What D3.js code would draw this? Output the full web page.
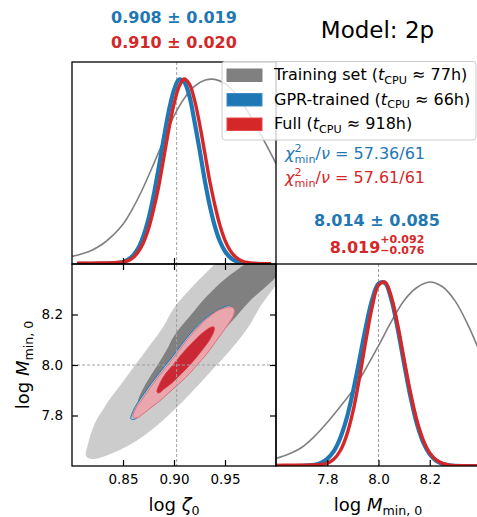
<!DOCTYPE html>
<html>
<head>
<meta charset="utf-8">
<script src="https://cdn.jsdelivr.net/npm/d3@7"></script>
<style>
body { margin: 0; background: #fff; }
svg { display: block; font-family: "DejaVu Sans", sans-serif; }
text { white-space: pre; }
</style>
</head>
<body>
<div id="chart"></div>
<script>
// ---- axis ranges and ticks ----
var zetaRange = [0.80, 1.00];
var mminRange = [7.6, 8.4];
var zetaTicks = [0.85, 0.90, 0.95];
var mminTicks = [7.8, 8.0, 8.2];
var zetaTruth = 0.9026;
var mminTruth = 8.0;

// ---- 1D marginal of log zeta0 (peak normalised) ----
var zetaGridTrain = [0.80, 0.81, 0.82, 0.83, 0.84, 0.85, 0.86, 0.87, 0.88, 0.89, 0.90,
                     0.91, 0.92, 0.93, 0.94, 0.95, 0.96, 0.97, 0.98, 0.99, 1.00];
var zetaTrain = [0.041, 0.055, 0.076, 0.108, 0.155, 0.215, 0.305, 0.415, 0.54, 0.67, 0.80,
                 0.895, 0.96, 0.993, 0.998, 0.975, 0.922, 0.845, 0.752, 0.649, 0.543];
var zetaGrid = [0.805, 0.82, 0.835, 0.845, 0.85, 0.855, 0.86, 0.865, 0.87, 0.875, 0.88,
                0.885, 0.89, 0.895, 0.90, 0.905, 0.91, 0.915, 0.92, 0.925, 0.93, 0.935,
                0.94, 0.945, 0.95, 0.955, 0.96, 0.965, 0.97, 0.98, 0.995];
var zetaGPR = [0.001, 0.001, 0.002, 0.006, 0.011, 0.024, 0.047, 0.086, 0.152, 0.245, 0.37,
               0.52, 0.68, 0.829, 0.94, 0.997, 0.983, 0.91, 0.773, 0.62, 0.458, 0.317,
               0.205, 0.123, 0.069, 0.036, 0.017, 0.008, 0.003, 0.001, 0.0];
var zetaFull = [0.004, 0.005, 0.006, 0.008, 0.011, 0.018, 0.035, 0.066, 0.115, 0.19, 0.295,
                0.42, 0.575, 0.73, 0.865, 0.96, 1.0, 0.974, 0.89, 0.76, 0.607, 0.45,
                0.32, 0.209, 0.128, 0.074, 0.04, 0.02, 0.01, 0.003, 0.001];

// ---- 1D marginal of log Mmin0 ----
var mminGridTrain = [7.60, 7.65, 7.70, 7.75, 7.80, 7.85, 7.90, 7.95, 8.00,
                     8.05, 8.10, 8.15, 8.20, 8.25, 8.30, 8.35, 8.40];
var mminTrain = [0.041, 0.065, 0.10, 0.16, 0.235, 0.32, 0.41, 0.525, 0.65,
                 0.78, 0.895, 0.965, 0.995, 0.969, 0.89, 0.76, 0.60];
var mminGrid = [7.60, 7.65, 7.70, 7.725, 7.75, 7.775, 7.80, 7.825, 7.85, 7.875, 7.90,
                7.925, 7.95, 7.975, 8.00, 8.025, 8.05, 8.075, 8.10, 8.125, 8.15, 8.175,
                8.20, 8.225, 8.25, 8.275, 8.30, 8.35, 8.40];
var mminGPR = [0.0, 0.0, 0.001, 0.003, 0.007, 0.017, 0.039, 0.079, 0.149, 0.254, 0.398,
               0.57, 0.748, 0.898, 0.986, 0.99, 0.901, 0.742, 0.552, 0.373, 0.227, 0.126,
               0.063, 0.028, 0.011, 0.004, 0.001, 0.0, 0.0];
var mminFull = [0.003, 0.004, 0.004, 0.005, 0.006, 0.008, 0.014, 0.036, 0.081, 0.163, 0.292,
                0.47, 0.672, 0.858, 0.977, 0.994, 0.914, 0.762, 0.576, 0.395, 0.246, 0.139,
                0.071, 0.033, 0.014, 0.005, 0.002, 0.001, 0.001];

// ---- 2D contours [log zeta0, log Mmin0] ----
var trainOuter = [[0.8137, 7.640], [0.8157, 7.687], [0.8225, 7.770], [0.8314, 7.830], [0.8392, 7.877],
  [0.8490, 7.929], [0.8598, 7.988], [0.8765, 8.079], [0.8892, 8.150], [0.9000, 8.226],
  [0.9186, 8.313], [0.9402, 8.400], [0.9647, 8.495], [0.9880, 8.600], [1.0137, 8.685],
  [1.0382, 8.733], [1.0598, 8.741], [1.0578, 8.693], [1.0510, 8.610], [1.0422, 8.550],
  [1.0343, 8.503], [1.0245, 8.451], [1.0137, 8.392], [0.9971, 8.301], [0.9843, 8.230],
  [0.9735, 8.154], [0.9578, 8.071], [0.9373, 7.980], [0.9137, 7.877], [0.8873, 7.774],
  [0.8598, 7.691], [0.8353, 7.644], [0.8196, 7.628]];
var trainInner = [[0.8647, 7.850], [0.8676, 7.889], [0.8745, 7.941], [0.8833, 7.996], [0.8922, 8.055],
  [0.9000, 8.115], [0.9157, 8.194], [0.9324, 8.273], [0.9500, 8.341], [0.9696, 8.400],
  [0.9883, 8.470], [1.0088, 8.550], [1.0235, 8.582], [1.0294, 8.554], [1.0235, 8.475],
  [1.0118, 8.408], [1.0000, 8.349], [0.9863, 8.297], [0.9735, 8.250], [0.9578, 8.178],
  [0.9402, 8.099], [0.9255, 8.040], [0.9108, 7.980], [0.8961, 7.921], [0.8814, 7.873],
  [0.8716, 7.850]];
var gprOuter = [[0.8578, 7.786], [0.8608, 7.826], [0.8676, 7.869], [0.8824, 7.952], [0.8990, 8.036],
  [0.9157, 8.123], [0.9324, 8.190], [0.9471, 8.226], [0.9549, 8.234], [0.9578, 8.218],
  [0.9529, 8.170], [0.9382, 8.083], [0.9225, 8.004], [0.9059, 7.933], [0.8873, 7.865],
  [0.8686, 7.806], [0.8618, 7.786]];
var gprInner = [[0.8814, 7.889], [0.8912, 7.968], [0.9059, 8.040], [0.9225, 8.111], [0.9353, 8.150],
  [0.9382, 8.139], [0.9275, 8.063], [0.9137, 7.996], [0.8971, 7.929], [0.8843, 7.885]];
var fullOuter = [[0.8598, 7.794], [0.8627, 7.830], [0.8696, 7.869], [0.8765, 7.909], [0.8843, 7.952],
  [0.8931, 7.996], [0.9010, 8.036], [0.9088, 8.079], [0.9176, 8.123], [0.9255, 8.158],
  [0.9343, 8.190], [0.9422, 8.214], [0.9500, 8.226], [0.9559, 8.230], [0.9588, 8.222],
  [0.9588, 8.202], [0.9539, 8.166], [0.9471, 8.127], [0.9392, 8.083], [0.9314, 8.040],
  [0.9235, 8.004], [0.9157, 7.968], [0.9069, 7.933], [0.8980, 7.901], [0.8882, 7.865],
  [0.8784, 7.834], [0.8696, 7.806], [0.8637, 7.790]];
var fullInner = [[0.8833, 7.893], [0.8863, 7.929], [0.8922, 7.968], [0.8990, 8.000], [0.9069, 8.040],
  [0.9157, 8.079], [0.9235, 8.111], [0.9304, 8.135], [0.9363, 8.150], [0.9392, 8.150],
  [0.9392, 8.135], [0.9343, 8.095], [0.9284, 8.063], [0.9216, 8.028], [0.9147, 7.996],
  [0.9069, 7.964], [0.8980, 7.929], [0.8902, 7.905], [0.8853, 7.889]];

// ---- text ----
var legendNames = ["Training set (", "GPR-trained (", "Full ("];
var legendTimes = [" \u2248 77h)", " \u2248 66h)", " \u2248 918h)"];
var chi2Values = ["57.36/61", "57.61/61"];
var zetaSummary = ["0.908 \u00b1 0.019", "0.910 \u00b1 0.020"];
var mminSummaryGPR = "8.014 \u00b1 0.085";
var mminSummaryFull = ["8.019", "+0.092", "\u22120.076"];

var BLUE = "#1f77b4", RED = "#d62728", GREY = "#808080";

var svg = d3.select("#chart").append("svg").attr("width", 477).attr("height", 517);

// scales
var xZ = d3.scaleLinear().domain(zetaRange).range([72, 276]);
var yM = d3.scaleLinear().domain(mminRange).range([466, 264]);
var xM = d3.scaleLinear().domain(mminRange).range([276, 481]);
var yTop = d3.scaleLinear().domain([0, 1.092]).range([264, 62]);
var yBot = d3.scaleLinear().domain([0, 1.092]).range([466, 264]);

// clip paths for the three panels
var defs = svg.append("defs");
function clip(id, x, y, w, h) {
    defs.append("clipPath").attr("id", id).append("rect")
        .attr("x", x).attr("y", y).attr("width", w).attr("height", h);
}
clip("cTL", 72, 62, 204, 202);
clip("cBL", 72, 264, 204, 202);
clip("cBR", 276, 264, 205, 202);

// lays out a row of text pieces (super/subscripts) and returns the group
function mathText(parent, x, y, parts, opt) {
    var g = parent.append("g");
    var cx = 0, lastStart = 0, lastW = 0;
    parts.forEach(function(p) {
        var t = g.append("text").text(p.t)
            .attr("font-size", p.s || opt.size)
            .attr("fill", opt.color || "#000")
            .attr("font-weight", opt.weight || "normal")
            .attr("font-style", p.i ? "italic" : "normal");
        var sx = p.stack ? lastStart : cx;
        t.attr("x", sx).attr("y", p.dy || 0);
        var w = t.node().getComputedTextLength();
        if (p.stack) {
            cx = lastStart + Math.max(lastW, w);
        } else {
            lastStart = sx; lastW = w; cx = sx + w;
        }
    });
    var shift = opt.anchor === "middle" ? -cx / 2 : 0;
    var tr = "translate(" + x + "," + y + ")";
    if (opt.rotate) tr += " rotate(" + opt.rotate + ")";
    g.attr("transform", tr + " translate(" + shift + ",0)");
    return g;
}

function dashed(g, x1, y1, x2, y2) {
    g.append("line").attr("x1", x1).attr("y1", y1).attr("x2", x2).attr("y2", y2)
        .attr("stroke", "#a0a0a0").attr("stroke-width", 1).attr("stroke-dasharray", "3,2");
}

// ---------- top-left: 1D log zeta0 ----------
var tl = svg.append("g").attr("clip-path", "url(#cTL)");
dashed(tl, xZ(zetaTruth), 62, xZ(zetaTruth), 264);
var lineZ = function(grid) {
    return d3.line().x(function(d, i) { return xZ(grid[i]); })
        .y(function(d) { return yTop(d); }).curve(d3.curveCatmullRom.alpha(0.5));
};
tl.append("path").attr("d", lineZ(zetaGridTrain)(zetaTrain))
    .attr("fill", "none").attr("stroke", GREY).attr("stroke-width", 1.6);
tl.append("path").attr("d", lineZ(zetaGrid)(zetaGPR))
    .attr("fill", "none").attr("stroke", BLUE).attr("stroke-width", 4.2);
tl.append("path").attr("d", lineZ(zetaGrid)(zetaFull))
    .attr("fill", "none").attr("stroke", RED).attr("stroke-width", 3.4);

// ---------- bottom-left: 2D contours ----------
var bl = svg.append("g").attr("clip-path", "url(#cBL)");
var contour = d3.line().x(function(d) { return xZ(d[0]); })
    .y(function(d) { return yM(d[1]); }).curve(d3.curveCatmullRomClosed.alpha(0.5));
bl.append("path").attr("d", contour(trainOuter)).attr("fill", "#cccccc");
bl.append("path").attr("d", contour(trainInner)).attr("fill", "#808080");
bl.append("path").attr("d", contour(gprOuter)).attr("fill", "#a9c9e2")
    .attr("stroke", BLUE).attr("stroke-width", 1);
bl.append("path").attr("d", contour(gprInner)).attr("fill", "#2f7bb5");
bl.append("path").attr("d", contour(fullOuter)).attr("fill", "#e9a7ad")
    .attr("stroke", "#e2707a").attr("stroke-width", 1);
bl.append("path").attr("d", contour(fullInner)).attr("fill", "#ca2834")
    .attr("stroke", "#d83a45").attr("stroke-width", 0.8);
dashed(bl, xZ(zetaTruth), 264, xZ(zetaTruth), 466);
dashed(bl, 72, yM(mminTruth), 276, yM(mminTruth));

// ---------- bottom-right: 1D log Mmin0 ----------
var br = svg.append("g").attr("clip-path", "url(#cBR)");
dashed(br, xM(mminTruth), 264, xM(mminTruth), 466);
var lineM = function(grid) {
    return d3.line().x(function(d, i) { return xM(grid[i]); })
        .y(function(d) { return yBot(d); }).curve(d3.curveCatmullRom.alpha(0.5));
};
br.append("path").attr("d", lineM(mminGridTrain)(mminTrain))
    .attr("fill", "none").attr("stroke", GREY).attr("stroke-width", 1.6);
br.append("path").attr("d", lineM(mminGrid)(mminGPR))
    .attr("fill", "none").attr("stroke", BLUE).attr("stroke-width", 4.2);
br.append("path").attr("d", lineM(mminGrid)(mminFull))
    .attr("fill", "none").attr("stroke", RED).attr("stroke-width", 3.4);

// ---------- spines ----------
[[72, 62, 204, 202], [72, 264, 204, 202], [276, 264, 205, 202]].forEach(function(r) {
    svg.append("rect").attr("x", r[0]).attr("y", r[1]).attr("width", r[2]).attr("height", r[3])
        .attr("fill", "none").attr("stroke", "#000").attr("stroke-width", 1.3);
});

// ---------- ticks ----------
function styleAxis(g) {
    g.select(".domain").remove();
    g.selectAll(".tick line").attr("stroke", "#000").attr("stroke-width", 1.2);
    g.selectAll(".tick text").attr("font-size", 13.5).attr("font-family", "DejaVu Sans").attr("fill", "#000");
}
var fmt2 = d3.format(".2f"), fmt1 = d3.format(".1f");
svg.append("g").attr("transform", "translate(0,264)")
    .call(d3.axisBottom(xZ).tickValues(zetaTicks).tickSize(-6).tickFormat("")).call(styleAxis);
svg.append("g").attr("transform", "translate(0,264)")
    .call(d3.axisTop(xZ).tickValues(zetaTicks).tickSize(-6).tickFormat("")).call(styleAxis);
svg.append("g").attr("transform", "translate(0,466)")
    .call(d3.axisBottom(xZ).tickValues(zetaTicks).tickSize(-6).tickPadding(8).tickFormat(fmt2)).call(styleAxis);
svg.append("g").attr("transform", "translate(72,0)")
    .call(d3.axisLeft(yM).tickValues(mminTicks).tickSize(-6).tickPadding(9).tickFormat(fmt1)).call(styleAxis);
svg.append("g").attr("transform", "translate(276,0)")
    .call(d3.axisRight(yM).tickValues(mminTicks).tickSize(-6).tickFormat("")).call(styleAxis);
svg.append("g").attr("transform", "translate(0,466)")
    .call(d3.axisBottom(xM).tickValues(mminTicks).tickSize(-6).tickPadding(8).tickFormat(fmt1)).call(styleAxis);

// ---------- axis labels ----------
mathText(svg, 174, 511, [{t: "log "}, {t: "\u03b6", i: true}, {t: "0", s: 12.6, dy: 4}],
    {size: 18, anchor: "middle"});
mathText(svg, 378, 511, [{t: "log "}, {t: "M", i: true}, {t: "min, 0", s: 12.6, dy: 4}],
    {size: 18, anchor: "middle"});
mathText(svg, 29, 365, [{t: "log "}, {t: "M", i: true}, {t: "min, 0", s: 12.6, dy: 4}],
    {size: 18, anchor: "middle", rotate: -90});

// ---------- summaries above panels ----------
mathText(svg, 174, 23, [{t: zetaSummary[0]}], {size: 16, weight: "bold", color: BLUE, anchor: "middle"});
mathText(svg, 174, 47.5, [{t: zetaSummary[1]}], {size: 16, weight: "bold", color: RED, anchor: "middle"});
mathText(svg, 377, 225.5, [{t: mminSummaryGPR}], {size: 16, weight: "bold", color: BLUE, anchor: "middle"});
mathText(svg, 377, 253, [{t: mminSummaryFull[0]}, {t: mminSummaryFull[1], s: 11, dy: -10.3},
    {t: mminSummaryFull[2], s: 11, dy: 1, stack: true}],
    {size: 16, weight: "bold", color: RED, anchor: "middle"});

svg.append("text").attr("x", 377.5).attr("y", 37.5).attr("text-anchor", "middle")
    .attr("font-size", 23).text("Model: 2p");

// ---------- chi2 lines ----------
[BLUE, RED].forEach(function(c, i) {
    mathText(svg, 285, 159.3 + i * 23.4, [{t: "\u03c7", i: true}, {t: "2", s: 11.2, dy: -7},
        {t: "min", s: 11.2, dy: 4, stack: true}, {t: "/"}, {t: "\u03bd", i: true},
        {t: " = " + chi2Values[i]}], {size: 16, color: c});
});

// ---------- legend ----------
var leg = svg.append("g");
leg.append("rect").attr("x", 222).attr("y", 61.5).attr("width", 254).attr("height", 78.5)
    .attr("rx", 3).attr("fill", "#fff").attr("fill-opacity", 0.8)
    .attr("stroke", "#cccccc").attr("stroke-width", 1);
var patchFill = [GREY, BLUE, RED];
var patchEdge = [GREY, "#3d8cc4", "#e04a4b"];
legendNames.forEach(function(name, i) {
    var yb = 80 + i * 24.5;
    leg.append("rect").attr("x", 227).attr("y", yb - 11).attr("width", 35).attr("height", 12.5)
        .attr("fill", patchFill[i]).attr("stroke", patchEdge[i]).attr("stroke-width", 1);
    mathText(leg, 274, yb, [{t: name}, {t: "t", i: true}, {t: "CPU", s: 11.2, dy: 3.5},
        {t: legendTimes[i]}], {size: 16});
});
</script>
</body>
</html>
